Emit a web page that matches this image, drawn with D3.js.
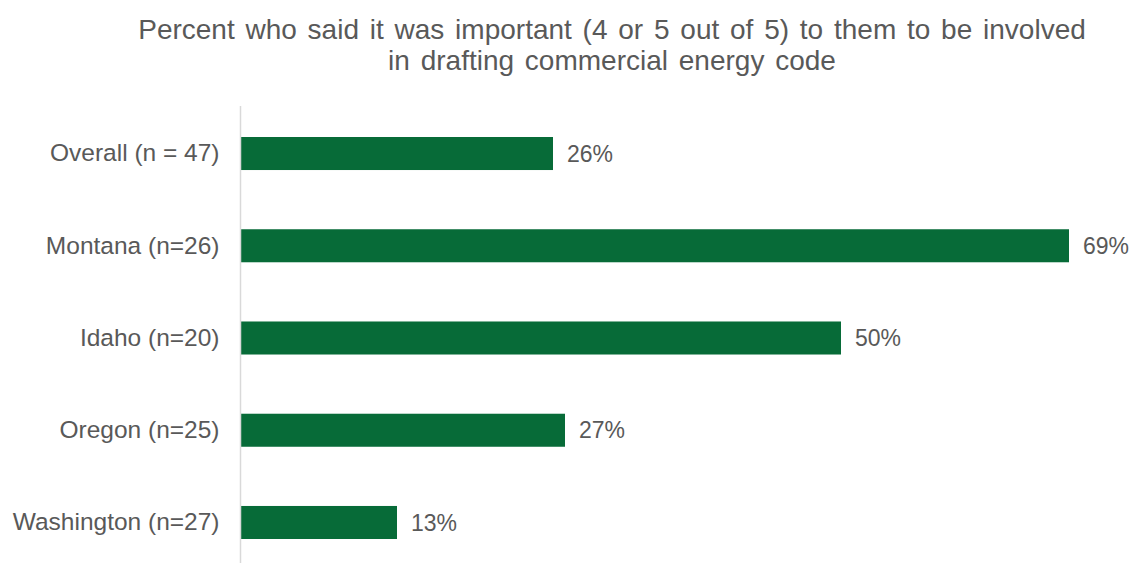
<!DOCTYPE html>
<html>
<head>
<meta charset="utf-8">
<script src="https://cdn.jsdelivr.net/npm/d3@7"></script>
<style>
  html, body { margin: 0; padding: 0; background: #fff; }
  svg { display: block; font-family: "Liberation Sans", Arial, sans-serif; }
</style>
</head>
<body>
<svg id="chart" width="1133" height="563"></svg>
<script>
// Survey groups and share who rated involvement as important (4 or 5 of 5)
const categories = ["Overall (n = 47)", "Montana (n=26)", "Idaho (n=20)", "Oregon (n=25)", "Washington (n=27)"];
const values = [0.26, 0.69, 0.50, 0.27, 0.13];
const titleLines = [
  "Percent who said it was important (4 or 5 out of 5) to them to be involved",
  "in drafting commercial energy code"
];

const svg = d3.select("#chart");
const textColor = "#595959";
const barColor = "#076b38";

const x = d3.scaleLinear().domain([0, 0.75]).range([241, 1141]);
const y = d3.scaleBand().domain(categories).range([107.4, 568.6]).paddingInner(0.642).paddingOuter(0.321);

// Title
svg.append("text")
  .attr("x", 612)
  .attr("y", 38.5)
  .attr("text-anchor", "middle")
  .attr("fill", textColor)
  .style("font-size", "28px")
  .style("word-spacing", "3px")
  .selectAll("tspan")
  .data(titleLines)
  .join("tspan")
  .attr("x", 612)
  .attr("dy", (d, i) => i === 0 ? 0 : 31.5)
  .text(d => d);

// Bars
svg.append("g")
  .selectAll("rect")
  .data(values)
  .join("rect")
  .attr("x", x(0))
  .attr("y", (d, i) => y(categories[i]))
  .attr("width", d => x(d) - x(0))
  .attr("height", y.bandwidth())
  .attr("fill", barColor);

// Value labels
svg.append("g")
  .selectAll("text")
  .data(values)
  .join("text")
  .attr("x", d => x(d) + 14)
  .attr("y", (d, i) => y(categories[i]) + y.bandwidth() / 2)
  .attr("dy", "0.35em")
  .attr("fill", textColor)
  .style("font-size", "23px")
  .text(d => d3.format(".0%")(d));

// Category axis
const yAxis = svg.append("g")
  .attr("transform", "translate(240.5,0)")
  .call(d3.axisLeft(y).tickSize(0).tickPadding(21));
yAxis.select(".domain").remove();
yAxis.append("line")
  .attr("x1", 0).attr("x2", 0)
  .attr("y1", 106).attr("y2", 563)
  .attr("stroke", "#d9d9d9")
  .attr("stroke-width", 1.5);
yAxis.selectAll(".tick text")
  .attr("fill", textColor)
  .style("font-size", "24.5px")
  .style("font-family", "\"Liberation Sans\", Arial, sans-serif");
</script>
</body>
</html>
